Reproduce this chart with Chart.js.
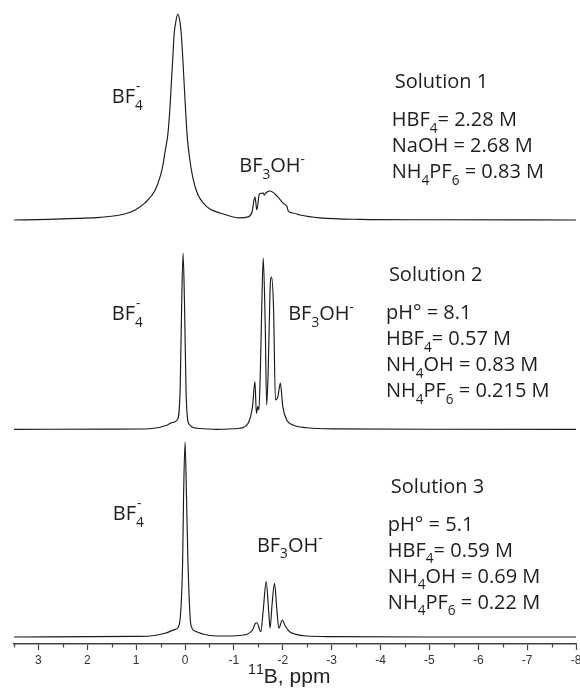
<!DOCTYPE html>
<html>
<head>
<meta charset="utf-8">
<script src="https://cdn.jsdelivr.net/npm/chart.js@4.4.1/dist/chart.umd.min.js"></script>
<style>
html, body { margin: 0; padding: 0; background: #fff; }
</style>
</head>
<body>
<canvas id="grafico" width="580" height="688"></canvas>
<script>
// espectros 11B (ppm, intensidad relativa al pico mayor = 100)
const ppm1 = [3.50, 2.80, 2.20, 1.74, 1.33, 1.02, 0.82, 0.61, 0.50, 0.45, 0.41, 0.38, 0.35, 0.31, 0.28, 0.25, 0.22, 0.19, 0.15, 0.11, 0.08, 0.04, 0.00, -0.05, -0.10, -0.17, -0.26, -0.37, -0.50, -0.72, -1.12, -1.29, -1.37, -1.43, -1.47, -1.52, -1.60, -1.62, -1.65, -1.74, -1.88, -2.00, -2.09, -2.11, -2.21, -2.35, -2.76, -3.58, -5.00, -8.00];
const int1 = [0, 0.3, 0.8, 1.3, 2.4, 4.9, 8.3, 14.6, 21.8, 27, 33, 37, 42, 54, 66.5, 79, 91, 96, 100, 97, 91, 76, 58, 39, 29, 19.4, 12.5, 8.3, 5.5, 3.4, 1.0, 1.5, 3.9, 11.2, 4.9, 12.6, 13.1, 12.1, 13.1, 14.1, 11.7, 8.3, 6.3, 4.4, 3.4, 2.4, 1.0, 0.3, 0.1, 0];

const ppm2 = [3.50, 1.50, 0.72, 0.37, 0.27, 0.16, 0.10, 0.07, 0.04, 0.01, -0.02, -0.07, -0.24, -0.65, -1.12, -1.29, -1.38, -1.43, -1.46, -1.49, -1.51, -1.54, -1.57, -1.60, -1.64, -1.67, -1.70, -1.74, -1.77, -1.81, -1.85, -1.90, -1.95, -2.00, -2.08, -2.21, -2.49, -3.03, -5.00, -8.00];
const int2 = [0, 0.1, 0.3, 2.3, 3.8, 5.3, 22.4, 69.8, 100, 69.8, 22.4, 3.4, 0.6, 0, 0.6, 3.4, 12.9, 27.1, 9.1, 12.9, 11, 31.9, 69.8, 97.3, 60.3, 13.8, 31.9, 79.3, 86.5, 69.8, 16.7, 18.6, 26.2, 12.9, 5.3, 2.4, 0.9, 0.2, 0, 0];

const ppm3 = [3.50, 1.00, 0.72, 0.41, 0.20, 0.12, 0.05, 0.03, 0.00, -0.03, -0.06, -0.12, -0.20, -0.40, -0.80, -1.20, -1.38, -1.44, -1.47, -1.55, -1.60, -1.66, -1.71, -1.74, -1.78, -1.83, -1.88, -1.92, -1.99, -2.05, -2.14, -2.25, -2.49, -3.00, -5.00, -8.00];
const int3 = [0, 0.3, 0.5, 1.9, 3.9, 6.2, 37.8, 72, 100, 72, 38, 6.2, 3.1, 1.3, 0.5, 1.0, 3.6, 7.0, 7.3, 2.7, 13.8, 28.4, 13.8, 4.5, 16.4, 27.5, 13.8, 4.5, 8.7, 5.6, 2.7, 1.5, 0.5, 0.2, 0, 0];

// textos (_x = subindice, ^x = superindice)
const etiquetaBF4 = 'BF_4^-';
const etiquetaBF3 = 'BF_3OH^-';
const solucion1 = ['Solution 1', 'HBF_4= 2.28 M', 'NaOH = 2.68 M', 'NH_4PF_6 = 0.83 M'];
const solucion2 = ['Solution 2', 'pH° = 8.1', 'HBF_4= 0.57 M', 'NH_4OH = 0.83 M', 'NH_4PF_6 = 0.215 M'];
const solucion3 = ['Solution 3', 'pH° = 5.1', 'HBF_4= 0.59 M', 'NH_4OH = 0.69 M', 'NH_4PF_6 = 0.22 M'];
const tituloX = '^1^1B, ppm';

const FUENTE = '"Open Sans", sans-serif';
const ALTO = 644; // alto del area de dibujo

// rango de cada eje y oculto para apilar los tres espectros
function rango(basePx, picoPx) {
    const k = (basePx - picoPx) / 100;
    return { min: -(ALTO - basePx) / k, max: 100 + picoPx / k };
}

function puntos(xs, ys) {
    return xs.map((x, i) => ({ x: x, y: ys[i] }));
}

// dibuja texto con subindices y superindices
function rico(ctx, s, x, y, t, fam) {
    const pequeno = t * 0.68;
    let cx = x;
    let run = '';
    const vaciar = () => {
        if (!run) return;
        ctx.font = t + 'px ' + fam;
        ctx.fillText(run, cx, y);
        cx += ctx.measureText(run).width;
        run = '';
    };
    for (let i = 0; i < s.length; i++) {
        const c = s[i];
        if (c === '_') {
            vaciar();
            ctx.font = pequeno + 'px ' + fam;
            const d = s[i + 1];
            ctx.fillText(d, cx, y + t * 0.33);
            let w = ctx.measureText(d).width;
            i++;
            if (s[i + 1] === '^') {
                const e = s[i + 2];
                ctx.fillText(e, cx + 1, y - t * 0.62);
                w = Math.max(w, ctx.measureText(e).width);
                i += 2;
            }
            cx += w;
        } else if (c === '^') {
            vaciar();
            ctx.font = pequeno + 'px ' + fam;
            const e = s[i + 1];
            ctx.fillText(e, cx, y - t * 0.42);
            cx += ctx.measureText(e).width;
            i++;
        } else {
            run += c;
        }
    }
    vaciar();
}

const notas = {
    id: 'notas',
    afterDraw(chart) {
        const ctx = chart.ctx;
        const sx = chart.scales.x;
        const fondo = chart.chartArea.bottom;
        ctx.save();
        ctx.fillStyle = '#1e1e1e';
        ctx.textAlign = 'left';
        ctx.textBaseline = 'alphabetic';

        // etiquetas de los picos
        const picos = [
            ['y1', etiquetaBF4, 1.50, 56.8], ['y1', etiquetaBF3, -1.11, 23.3],
            ['y2', etiquetaBF4, 1.50, 62.1], ['y2', etiquetaBF3, -2.11, 62.1],
            ['y3', etiquetaBF4, 1.48, 60.0], ['y3', etiquetaBF3, -1.47, 43.7]
        ];
        picos.forEach(([eje, txt, px, py]) => {
            rico(ctx, txt, sx.getPixelForValue(px), chart.scales[eje].getPixelForValue(py), 20, FUENTE);
        });

        // bloques de condiciones
        const bloques = [['y1', solucion1, -4.23, 64.1], ['y2', solucion2, -4.11, 84.3], ['y3', solucion3, -4.15, 74.0]];
        bloques.forEach(([eje, lineas, px, py]) => {
            const x0 = sx.getPixelForValue(px);
            let y0 = chart.scales[eje].getPixelForValue(py);
            lineas.forEach((l, i) => {
                if (i === 1) y0 += 38;
                else if (i > 1) y0 += 26;
                rico(ctx, l, i === 0 ? x0 + 3 : x0, y0, 20, FUENTE);
            });
        });

        // marcas menores del eje x
        ctx.strokeStyle = '#444';
        ctx.lineWidth = 1.2;
        for (let v = 3.5; v > -8; v -= 1) {
            const px = Math.round(sx.getPixelForValue(v)) + 0.5;
            ctx.beginPath();
            ctx.moveTo(px, fondo);
            ctx.lineTo(px, fondo + 3.5);
            ctx.stroke();
        }

        // titulo del eje x
        ctx.fillStyle = '#222';
        rico(ctx, tituloX, 248, 683, 21, '"Liberation Sans", Arial, sans-serif');
        ctx.restore();
    }
};

const r1 = rango(220, 14);
const r2 = rango(429.3, 253.3);
const r3 = rango(637, 442);

const linea = { borderColor: '#1a1a1a', borderWidth: 1.15, pointRadius: 0, fill: false, cubicInterpolationMode: 'monotone' };

new Chart(document.getElementById('grafico').getContext('2d'), {
    type: 'line',
    data: {
        datasets: [
            Object.assign({ label: 'Solution 1', data: puntos(ppm1, int1), yAxisID: 'y1' }, linea),
            Object.assign({ label: 'Solution 2', data: puntos(ppm2, int2), yAxisID: 'y2' }, linea),
            Object.assign({ label: 'Solution 3', data: puntos(ppm3, int3), yAxisID: 'y3' }, linea)
        ]
    },
    options: {
        responsive: false,
        animation: false,
        layout: { autoPadding: false, padding: { left: 14, right: 4, top: 0, bottom: 0 } },
        plugins: { legend: { display: false }, tooltip: { enabled: false } },
        scales: {
            x: {
                type: 'linear',
                reverse: true,
                min: -8,
                max: 3.5,
                afterFit(scale) {
                    scale.height = 44;
                    scale.paddingLeft = 0;
                    scale.paddingRight = 0;
                },
                border: { display: true, color: '#444', width: 1.5 },
                grid: { display: true, drawOnChartArea: false, drawTicks: true, tickLength: 6, tickColor: '#444', tickWidth: 1.2 },
                ticks: {
                    stepSize: 1,
                    includeBounds: false,
                    autoSkip: false,
                    maxRotation: 0,
                    padding: 3,
                    color: '#333',
                    font: { family: '"Liberation Sans", Arial, sans-serif', size: 12 },
                    callback: v => String(v)
                }
            },
            y1: { display: false, min: r1.min, max: r1.max },
            y2: { display: false, min: r2.min, max: r2.max },
            y3: { display: false, min: r3.min, max: r3.max }
        }
    },
    plugins: [notas]
});
</script>
</body>
</html>
